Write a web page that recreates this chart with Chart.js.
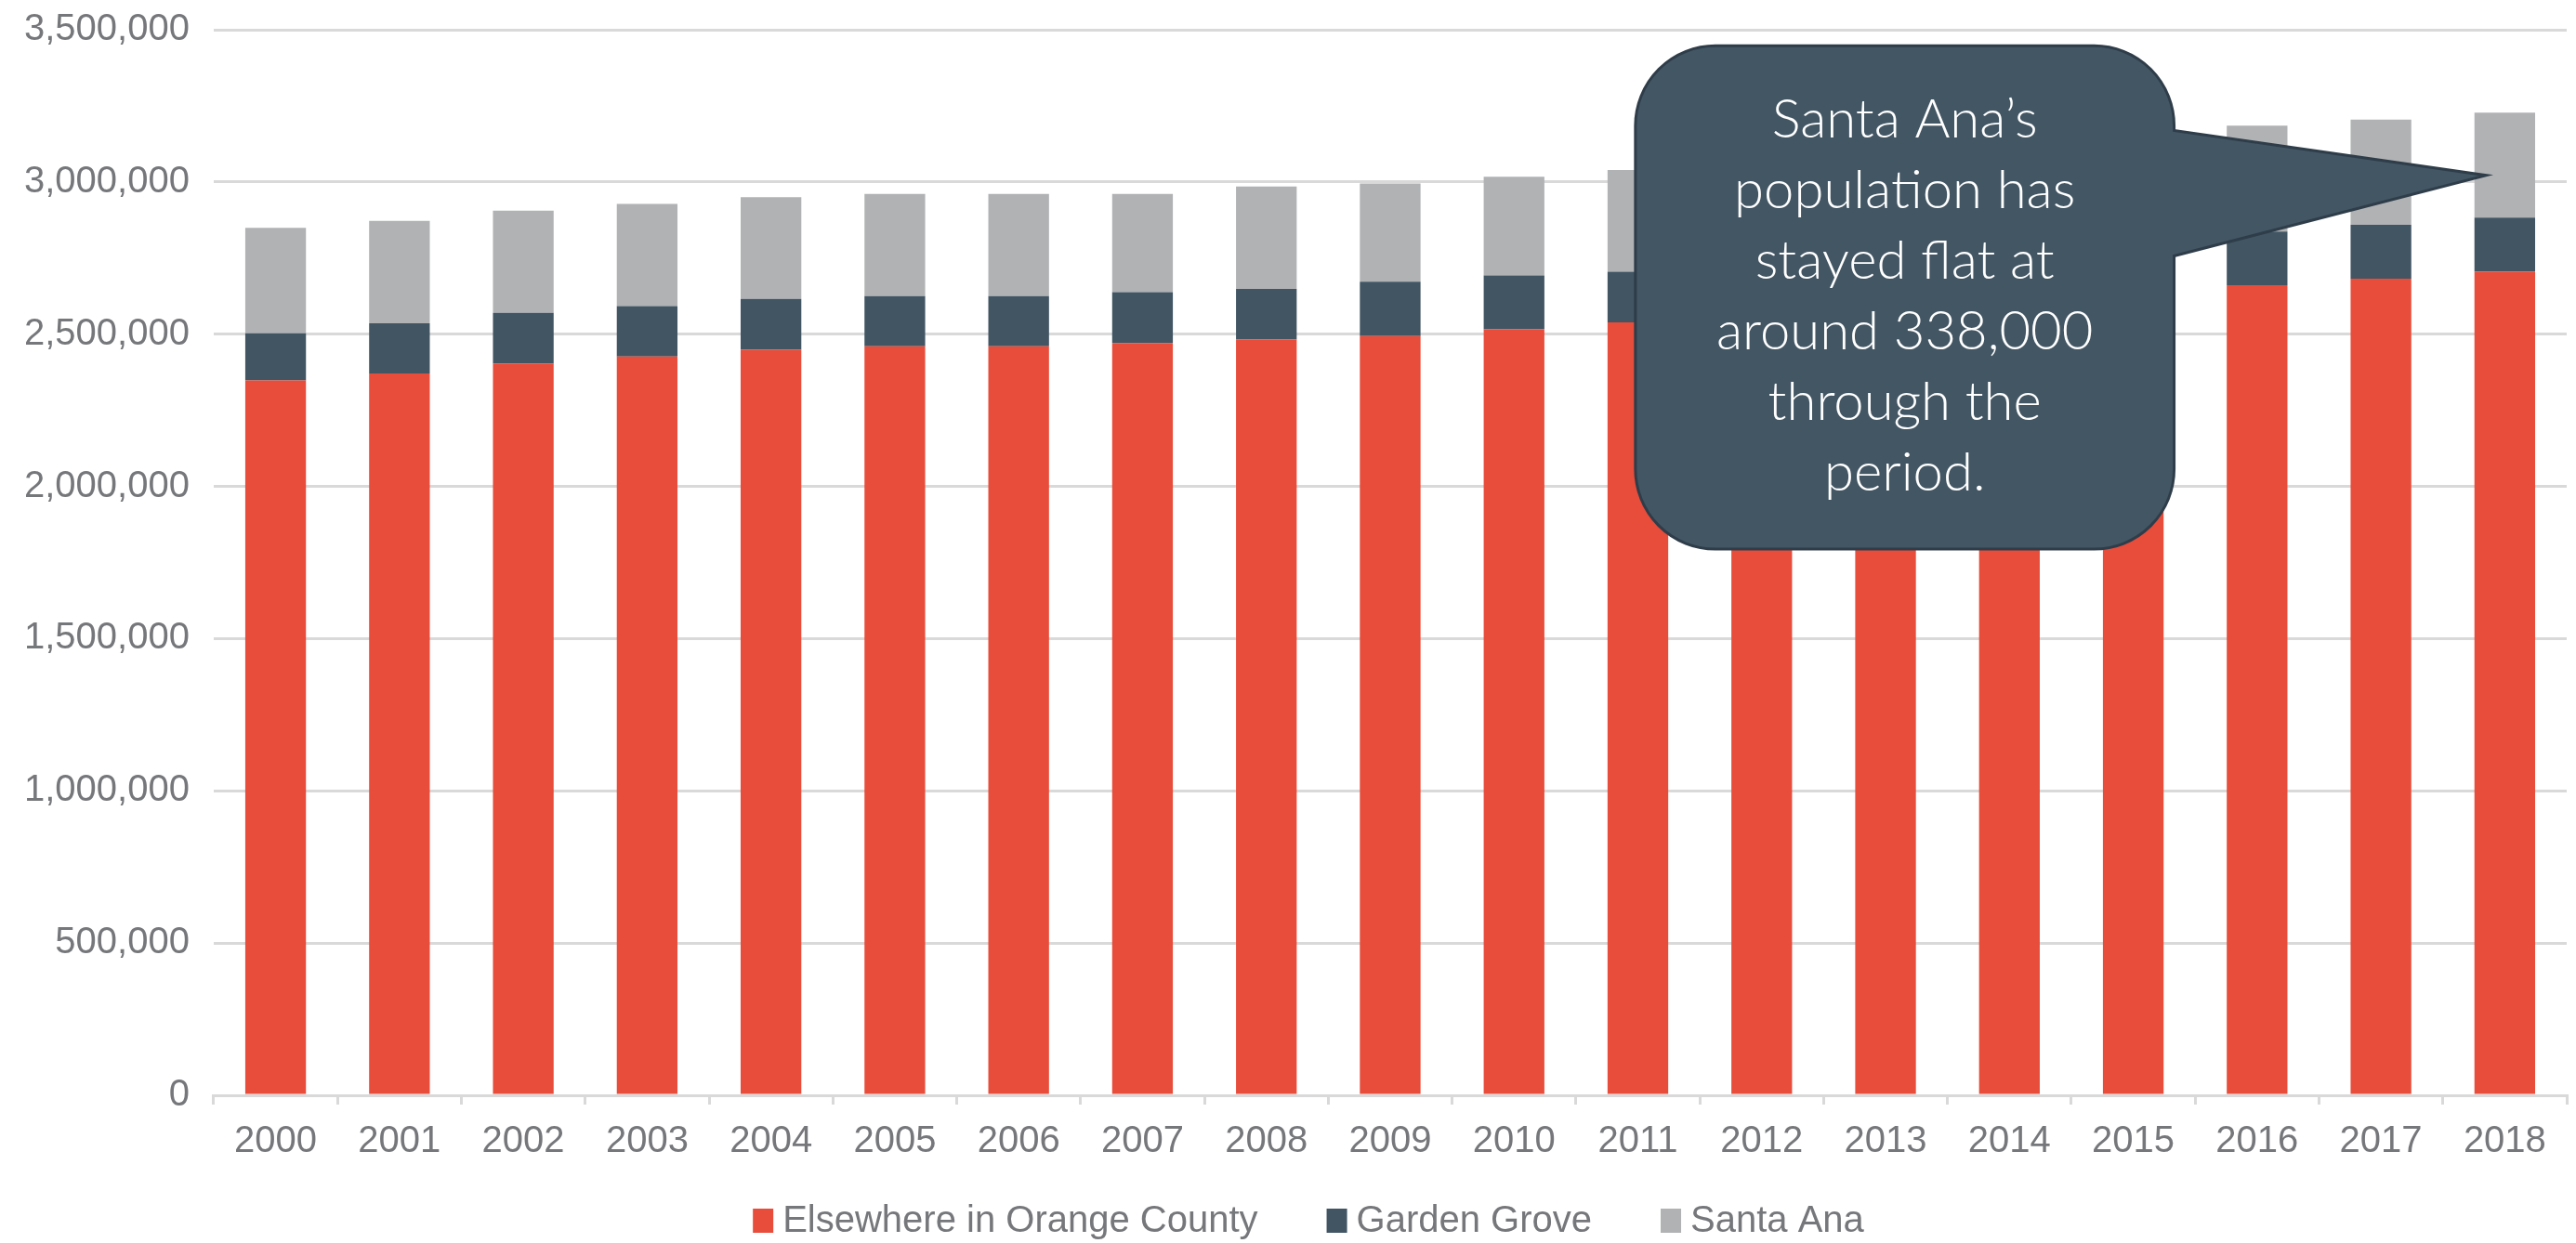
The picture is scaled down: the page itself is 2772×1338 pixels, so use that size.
<!DOCTYPE html>
<html>
<head>
<meta charset="utf-8">
<script src="https://cdn.jsdelivr.net/npm/chart.js@4.4.1/dist/chart.umd.min.js"></script>
<style>
  html, body { margin: 0; padding: 0; background: #fff; }
  #wrap { width: 2772px; height: 1338px; position: relative; }
</style>
</head>
<body>
<div id="wrap"><canvas id="popChart"></canvas></div>
<script>
// --- data --- //
const years = ['2000', '2001', '2002', '2003', '2004', '2005', '2006', '2007', '2008', '2009',
               '2010', '2011', '2012', '2013', '2014', '2015', '2016', '2017', '2018'];

const elsewhere = [2348000, 2371000, 2404000, 2427000, 2449000, 2460000, 2460000, 2471000, 2483000, 2494000,
                   2516000, 2539000, 2563000, 2588000, 2612000, 2637000, 2661000, 2682000, 2705000];

const gardenGrove = [155000, 165000, 166000, 165000, 167000, 165000, 165000, 167000, 166000, 178000,
                     177000, 166000, 172000, 173000, 174000, 175000, 176000, 177000, 178000];

const santaAna = [346000, 336000, 336000, 336000, 334000, 336000, 336000, 323000, 336000, 323000,
                  324000, 334000, 336000, 338000, 340000, 342000, 348000, 346000, 345000];

const yMax = 3500000;
const yStep = 500000;

const calloutLines = ['Santa Ana’s', 'population has', 'stayed flat at', 'around 338,000', 'through the', 'period.'];

// --- look --- //
const colors = {
    elsewhere: '#E84C3A',
    gardenGrove: '#415563',
    santaAna: '#B1B2B4',
    grid: '#D9D9D9',
    text: '#76777A',
    bubble: '#435664',
    bubbleEdge: '#2E3D49'
};

const axisFont = { family: "'Liberation Sans', Arial, sans-serif", size: 40 };

// callout placed in category-index / value space
const callout = {
    left: 10.98, right: 15.33, top: 3447000, bottom: 1794000,
    baseTop: 3169000, baseBottom: 2757000, tipX: 17.85, tipY: 3022000,
    radius: 86
};

const calloutPlugin = {
    id: 'calloutPlugin',
    afterDraw(chart) {
        const { ctx, scales: { x, y } } = chart;
        const L = x.getPixelForValue(callout.left);
        const R = x.getPixelForValue(callout.right);
        const T = y.getPixelForValue(callout.top);
        const B = y.getPixelForValue(callout.bottom);
        const r = callout.radius;

        ctx.save();
        ctx.beginPath();
        ctx.moveTo(L + r, T);
        ctx.lineTo(R - r, T);
        ctx.arcTo(R, T, R, T + r, r);
        ctx.lineTo(R, y.getPixelForValue(callout.baseTop));
        ctx.lineTo(x.getPixelForValue(callout.tipX), y.getPixelForValue(callout.tipY));
        ctx.lineTo(R, y.getPixelForValue(callout.baseBottom));
        ctx.lineTo(R, B - r);
        ctx.arcTo(R, B, R - r, B, r);
        ctx.lineTo(L + r, B);
        ctx.arcTo(L, B, L, B - r, r);
        ctx.lineTo(L, T + r);
        ctx.arcTo(L, T, L + r, T, r);
        ctx.closePath();
        ctx.fillStyle = colors.bubble;
        ctx.fill();
        ctx.lineWidth = 3;
        ctx.strokeStyle = colors.bubbleEdge;
        ctx.stroke();

        // fit the text width to the bubble
        const family = "Lato, 'Open Sans', sans-serif";
        ctx.font = `300 60px ${family}`;
        const widest = Math.max(...calloutLines.map(t => ctx.measureText(t).width));
        const size = Math.round(60 * 405 / widest);
        ctx.font = `300 ${size}px ${family}`;
        ctx.fillStyle = '#FFFFFF';
        ctx.textAlign = 'center';
        ctx.textBaseline = 'alphabetic';
        const cx = (L + R) / 2;
        const cy = (T + B) / 2;
        const lineH = 76;
        calloutLines.forEach((line, i) => {
            ctx.fillText(line, cx, cy - 172 + i * lineH);
        });
        ctx.restore();
    }
};

// Excel-like legend: small box, tight gap to the label
const legendPlugin = {
    id: 'legendPlugin',
    afterDraw(chart) {
        const { ctx, width } = chart;
        const box = { w: 22, h: 26 }, gap = 10, itemGap = 74;
        const cy = 1314, cx = width / 2 + 22;
        ctx.save();
        ctx.font = `${axisFont.size}px ${axisFont.family}`;
        ctx.textBaseline = 'middle';
        ctx.textAlign = 'left';
        const items = chart.data.datasets.map(ds => ({ text: ds.label, color: ds.backgroundColor, w: ctx.measureText(ds.label).width }));
        const total = items.reduce((s, it) => s + box.w + gap + it.w, 0) + itemGap * (items.length - 1);
        let xPos = cx - total / 2;
        items.forEach(it => {
            ctx.fillStyle = it.color;
            ctx.fillRect(xPos, cy - box.h / 2, box.w, box.h);
            ctx.fillStyle = colors.text;
            ctx.fillText(it.text, xPos + box.w + gap, cy + 1);
            xPos += box.w + gap + it.w + itemGap;
        });
        ctx.restore();
    }
};

new Chart(document.getElementById('popChart'), {
    type: 'bar',
    data: {
        labels: years,
        datasets: [
            { label: 'Elsewhere in Orange County', data: elsewhere, backgroundColor: colors.elsewhere },
            { label: 'Garden Grove', data: gardenGrove, backgroundColor: colors.gardenGrove },
            { label: 'Santa Ana', data: santaAna, backgroundColor: colors.santaAna }
        ]
    },
    plugins: [calloutPlugin, legendPlugin],
    options: {
        responsive: true,
        maintainAspectRatio: false,
        devicePixelRatio: 1,
        animation: false,
        categoryPercentage: 1,
        barPercentage: 0.49,
        layout: { padding: { left: 0, right: 10, top: 0, bottom: 69 } },
        plugins: {
            legend: { display: false },
            tooltip: { enabled: false }
        },
        scales: {
            x: {
                stacked: true,
                grid: { offset: true, drawOnChartArea: false, drawTicks: true, tickLength: 10, color: colors.grid, lineWidth: 3 },
                border: { color: colors.grid, width: 3 },
                ticks: { font: axisFont, color: colors.text, padding: 16, maxRotation: 0, autoSkip: false }
            },
            y: {
                stacked: true,
                min: 0,
                max: yMax,
                grid: { color: colors.grid, lineWidth: 3, drawTicks: false },
                border: { display: false },
                ticks: {
                    stepSize: yStep,
                    font: { ...axisFont, lineHeight: 0.3 },
                    color: colors.text,
                    padding: 26,
                    callback: (v) => v.toLocaleString('en-US')
                }
            }
        }
    }
});
</script>
</body>
</html>
